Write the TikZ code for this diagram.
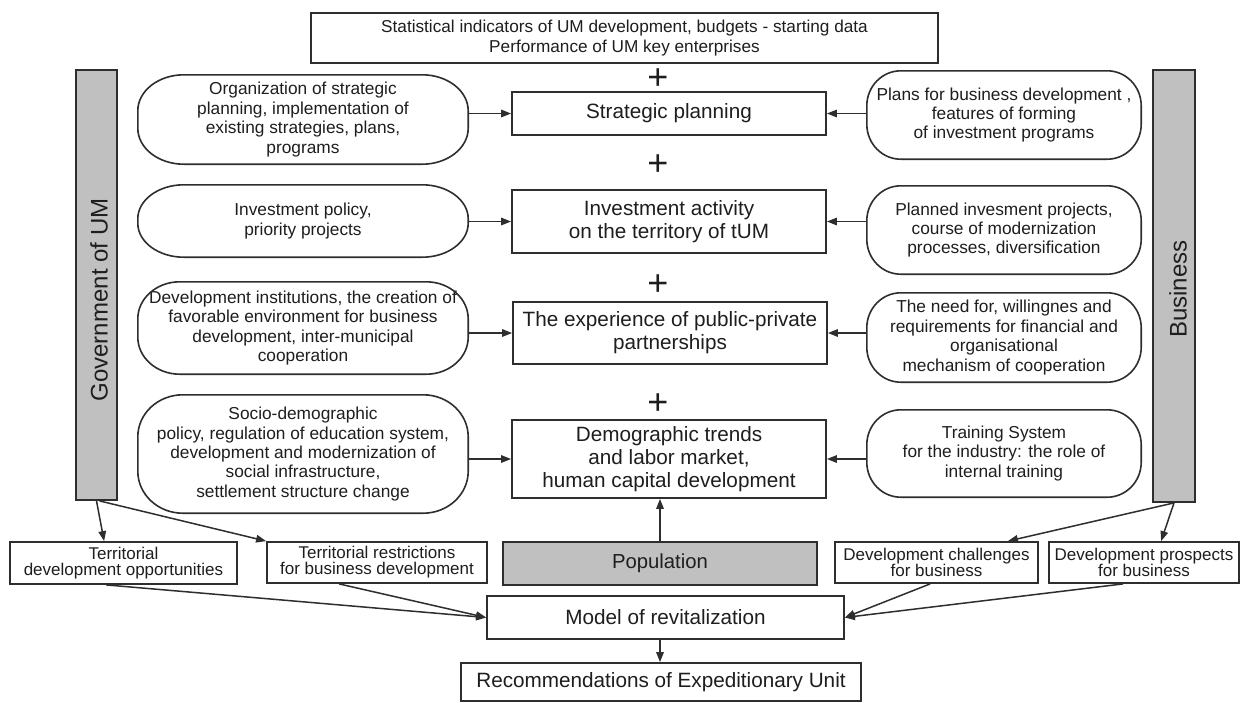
\documentclass[tikz,border=0pt]{standalone}
\usepackage{fontspec}
\setmainfont{Liberation Sans}
\usetikzlibrary{arrows.meta}

\definecolor{linegray}{HTML}{2E2E2E}
\definecolor{barfill}{HTML}{C0C0C0}
\definecolor{inkgray}{HTML}{1E1E1E}

\tikzset{
  every node/.style={text=inkgray},
  sq/.style={draw=linegray, line width=1.8pt, inner sep=0pt, align=center},
  mainbox/.style={sq, font=\fontsize{20.7}{23}\selectfont, minimum width=314pt},
  smallbox/.style={sq, font=\fontsize{17}{16}\selectfont},
  panel/.style={inner sep=0pt, align=center, font=\fontsize{17.3}{19.4}\selectfont},
  panelline/.style={draw=linegray, line width=1.6pt},
  bar/.style={draw=linegray, line width=1.8pt, fill=barfill, inner sep=0pt},
  barlabel/.style={rotate=90, inner sep=0pt, font=\fontsize{24}{24}\selectfont},
  plus/.style={font=\fontsize{36}{36}\selectfont, inner sep=0pt},
  arr/.style={draw=linegray, line width=1.5pt, -{Triangle[length=10pt,width=7.5pt]}},
}

% rounded text panel: name, centre x, centre y, width, height, corner rx, corner ry, text
\newcommand\roundpanel[8]{%
  \node[panel, minimum width=#4pt, minimum height=#5pt] (#1) at (#2,-#3) {#8};
  \draw[panelline]
    ([xshift=#6pt]#1.north west) -- ([xshift=-#6pt]#1.north east)
    arc[start angle=90, end angle=0, x radius=#6, y radius=#7]
    -- ([yshift=#7pt]#1.south east)
    arc[start angle=0, end angle=-90, x radius=#6, y radius=#7]
    -- ([xshift=#6pt]#1.south west)
    arc[start angle=-90, end angle=-180, x radius=#6, y radius=#7]
    -- ([yshift=-#7pt]#1.north west)
    arc[start angle=180, end angle=90, x radius=#6, y radius=#7]
    -- cycle;
}

\begin{document}
\begin{tikzpicture}[x=1pt, y=1pt]
\useasboundingbox[fill=white] (0,0) rectangle (1242,-702);

% starting data
\node[sq, font=\fontsize{17.2}{20}\selectfont, minimum width=627pt, minimum height=50pt] (data) at (624.5,-38)
  {Statistical indicators of UM development, budgets - starting data\\Performance of UM key enterprises};

% actor bars
\node[bar, minimum width=41pt, minimum height=430pt] (gov) at (96.5,-285) {};
\node[barlabel] (govlabel) at (99,-300) {Government of UM};
\node[bar, minimum width=42pt, minimum height=432pt] (bus) at (1174,-286) {};
\node[barlabel] (buslabel) at (1178,-289) {Business};

% central column
\node[mainbox, minimum height=43pt] (strat) at (669,-113.5) {Strategic planning};
\node[mainbox, minimum height=63pt] (invest) at (669,-221.5) {Investment activity\\on the territory of tUM};
\node[mainbox, minimum height=62pt] (ppp) at (670,-333) {The experience of public-private\\partnerships};
\node[mainbox, minimum height=78pt] (demo) at (669,-459) {Demographic trends\\and labor market,\\human capital development};

\node[plus] (p1) at (658,-79) {+};
\node[plus] (p2) at (658,-165) {+};
\node[plus] (p3) at (658,-285) {+};
\node[plus] (p4) at (658,-404) {+};

% government panels
\roundpanel{g1}{303}{119.5}{330}{89}{46}{36}{Organization of strategic\\planning, implementation of\\existing strategies, plans,\\programs}
\roundpanel{g2}{303}{221}{330}{72}{46}{34}{Investment policy,\\priority projects}
\roundpanel{g3}{303}{328}{330}{92}{42}{37}{Development institutions, the creation of\\favorable environment for business\\development, inter-municipal\\cooperation}
\roundpanel{g4}{303}{454}{330}{118}{45}{42}{Socio-demographic\\policy, regulation of education system,\\development and modernization of\\social infrastructure,\\settlement structure change}

% business panels
\roundpanel{b1}{1004}{115}{274}{88}{34}{35}{Plans for business development ,\\features of forming\\of investment programs}
\roundpanel{b2}{1004}{230}{274}{88}{34}{35}{Planned invesment projects,\\course of modernization\\processes, diversification}
\roundpanel{b3}{1004}{337.5}{274}{89}{34}{35}{The need for, willingnes and\\requirements for financial and\\organisational\\mechanism of cooperation}
\roundpanel{b4}{1004}{453.5}{274}{87}{34}{35}{Training System\\for the industry: the role of\\internal training}

% lower row
\node[smallbox, minimum width=227pt, minimum height=42pt] (opp) at (123.5,-563) {Territorial\\development opportunities};
\node[smallbox, minimum width=220pt, minimum height=41pt] (restr) at (377,-562.5) {Territorial restrictions\\for business development};
\node[sq, fill=barfill, font=\fontsize{20.3}{23}\selectfont, minimum width=314pt, minimum height=43pt] (pop) at (660,-563.5) {Population};
\node[smallbox, minimum width=203pt, minimum height=41pt] (chal) at (936.5,-562.5) {Development challenges\\for business};
\node[smallbox, minimum width=190pt, minimum height=41pt] (prosp) at (1144,-562.5) {Development prospects\\for business};

\node[sq, font=\fontsize{20.7}{23}\selectfont, minimum width=357pt, minimum height=43pt] (model) at (665.5,-617.5) {Model of revitalization};
\node[sq, font=\fontsize{20.7}{23}\selectfont, minimum width=400pt, minimum height=38pt] (rec) at (661,-682) {Recommendations of Expeditionary Unit};

% panels feeding the central column
\draw[arr] (strat.west -| g1.east) -- (strat.west);
\draw[arr] (invest.west -| g2.east) -- (invest.west);
\draw[arr] (ppp.west -| g3.east) -- (ppp.west);
\draw[arr] (demo.west -| g4.east) -- (demo.west);
\draw[arr] (strat.east -| b1.west) -- (strat.east);
\draw[arr] (invest.east -| b2.west) -- (invest.east);
\draw[arr] (ppp.east -| b3.west) -- (ppp.east);
\draw[arr] (demo.east -| b4.west) -- (demo.east);

% actors to the lower row
\draw[arr] (gov.south) -- ([xshift=95pt]opp.north west);
\draw[arr] ([xshift=3pt]gov.south) -- (restr.north west);
\draw[arr] (bus.south) -- ([xshift=-31pt]chal.north east);
\draw[arr] (bus.south) -- ([xshift=113pt]prosp.north west);

% population and the model
\draw[arr] (pop.north) -- (pop.north |- demo.south);
\draw[arr] ([xshift=97pt]opp.south west) -- (model.west);
\draw[arr] ([xshift=73pt]restr.south west) -- (model.west);
\draw[arr] ([xshift=96pt]chal.south west) -- (model.east);
\draw[arr] ([xshift=75pt]prosp.south west) -- (model.east);
\draw[arr] (model.south -| pop.north) -- (rec.north -| pop.north);
\end{tikzpicture}
\end{document}
